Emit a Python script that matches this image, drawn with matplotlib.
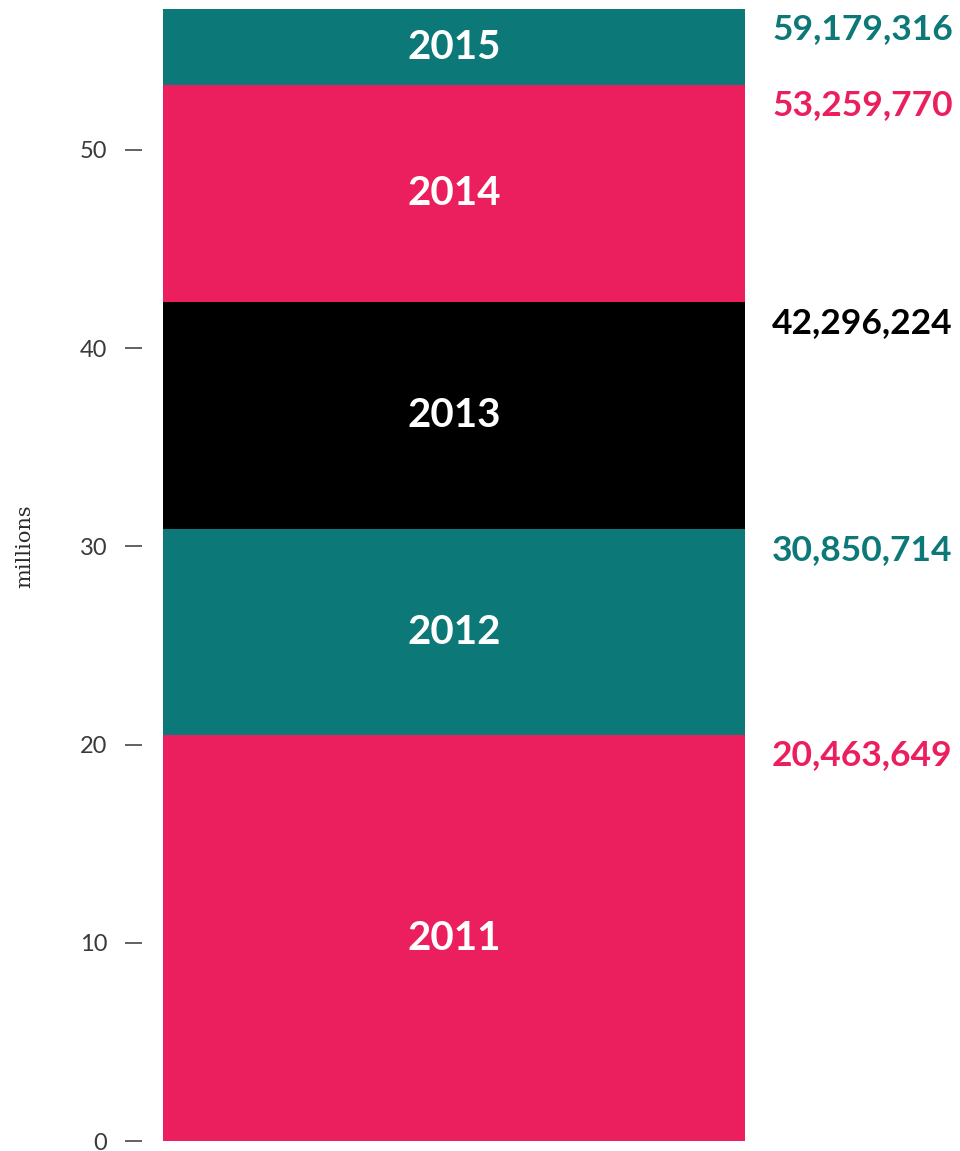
import matplotlib
matplotlib.use('Agg')
import matplotlib.pyplot as plt

# cumulative totals at end of each year
years = ['2011', '2012', '2013', '2014', '2015']
totals = [20463649, 30850714, 42296224, 53259770, 59179316]
colors = ['#eb1f5d', '#0c7878', '#000000', '#eb1f5d', '#0c7878']
yticks = [0, 10, 20, 30, 40, 50]

W, H, dpi = 960, 1151, 100
fig = plt.figure(figsize=(W / dpi, H / dpi), dpi=dpi)
# axes from x=142px to 745px, y=9px to 1141px
ax = fig.add_axes([142 / W, (H - 1141) / H, (745 - 142) / W, (1141 - 9) / H])

ymax = 57.1
vals = [t / 1e6 for t in totals]
bottoms = [0] + vals[:-1]
heights = [v - b for v, b in zip(vals, bottoms)]

x0 = 21 / 603
ax.bar(x0, heights, width=1 - x0, bottom=bottoms, align='edge',
       color=colors, linewidth=0)
ax.set_xlim(0, 1)
ax.set_ylim(0, ymax)

for yr, b, v, c, t in zip(years, bottoms, vals, colors, totals):
    top = min(v, ymax)
    ax.text(x0 + (1 - x0) / 2, (b + top) / 2, yr, color='white',
            fontsize=29, fontweight='bold', family='Lato',
            ha='center', va='center')
    ax.annotate(f'{t:,}', xy=(1, top), xytext=(27 * 0.72, -3),
                textcoords='offset points', ha='left', va='top',
                fontsize=25.5, fontweight='bold', family='Lato',
                color=c, annotation_clip=False)

for s in ax.spines.values():
    s.set_visible(False)
ax.set_xticks([])
ax.set_yticks(yticks)
ax.set_yticklabels([str(t) for t in yticks], family='Lato',
                   fontweight='normal', fontsize=17, color='#3a3a3a')
ax.tick_params(axis='y', length=12, width=1.3, color='#555555', pad=13)

fig.text(25 / W, 1 - 546 / H, 'millions', rotation=90, ha='center',
         va='center', family='DejaVu Serif', fontsize=15, color='#2a2a2a')

fig.savefig('out.png', dpi=dpi)
